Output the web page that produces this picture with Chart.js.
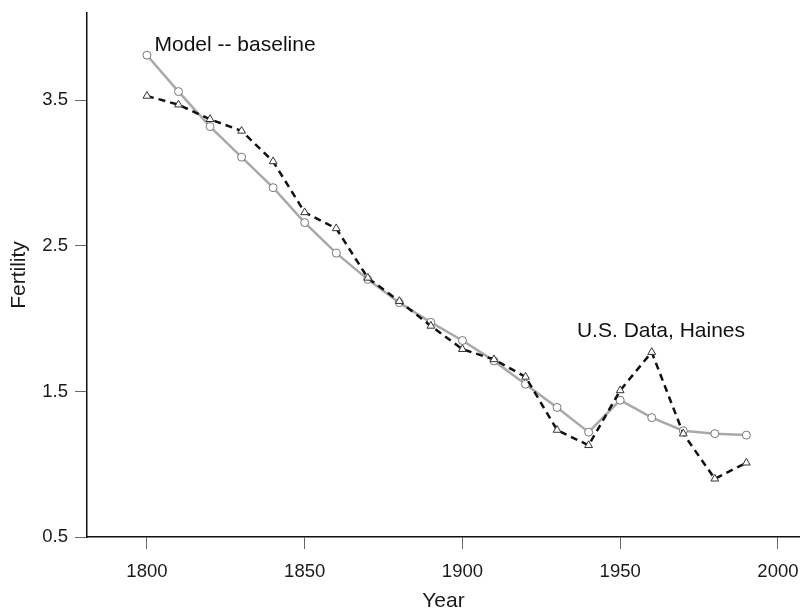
<!DOCTYPE html>
<html>
<head>
<meta charset="utf-8">
<script src="https://cdn.jsdelivr.net/npm/chart.js@4/dist/chart.umd.min.js"></script>
<style>
html,body{margin:0;padding:0;background:#fff;}
#wrap{width:800px;height:611px;}
</style>
</head>
<body>
<div id="wrap"><canvas id="c" width="800" height="611"></canvas></div>
<script>
const years = [1800,1810,1820,1830,1840,1850,1860,1870,1880,1890,1900,1910,1920,1930,1940,1950,1960,1970,1980,1990];
const modelBaseline = [3.81,3.56,3.32,3.11,2.90,2.66,2.45,2.27,2.11,1.975,1.85,1.71,1.55,1.39,1.22,1.44,1.32,1.23,1.21,1.20];
const usDataHaines = [3.53,3.47,3.37,3.29,3.08,2.73,2.62,2.28,2.12,1.95,1.79,1.72,1.60,1.235,1.13,1.507,1.77,1.21,0.90,1.01];
const xTickValues = [1800,1850,1900,1950,2000];
const yTickValues = [0.5,1.5,2.5,3.5];
const annotationTexts = ['Model -- baseline','U.S. Data, Haines'];
const annotationX = [1802.4,1936.3];
const annotationY = [3.877,1.911];

const FONT = '"Liberation Sans", Arial, Helvetica, sans-serif';
const toPoints = (vals) => vals.map((v,i)=>({x:years[i], y:v}));

const labelPlugin = {
  id:'annotLabels',
  afterDatasetsDraw(chart){
    const {ctx, scales:{x,y}} = chart;
    ctx.save();
    ctx.font = '21px ' + FONT;
    ctx.fillStyle = '#111';
    ctx.textAlign = 'left';
    ctx.textBaseline = 'middle';
    annotationTexts.forEach((t,i)=>{
      ctx.fillText(t, x.getPixelForValue(annotationX[i]), y.getPixelForValue(annotationY[i]));
    });
    ctx.restore();
  }
};

new Chart(document.getElementById('c'), {
  type:'line',
  data:{
    datasets:[
      {
        label:'Model -- baseline',
        data: toPoints(modelBaseline),
        borderColor:'#a9a9a9',
        borderWidth:2.5,
        pointStyle:'circle',
        pointRadius:4,
        pointBackgroundColor:'#fff',
        pointBorderColor:'#777',
        pointBorderWidth:1,
        tension:0,
        order:2
      },
      {
        label:'U.S. Data, Haines',
        data: toPoints(usDataHaines),
        borderColor:'#111',
        borderWidth:2.5,
        borderDash:[7,5],
        pointStyle:'triangle',
        pointRadius:4.5,
        pointBackgroundColor:'#fff',
        pointBorderColor:'#333',
        pointBorderWidth:1,
        tension:0,
        order:1
      }
    ]
  },
  options:{
    responsive:false,
    animation:false,
    devicePixelRatio:1,
    layout:{autoPadding:false, padding:{top:13,right:0,bottom:0,left:0}},
    plugins:{legend:{display:false}, tooltip:{enabled:false}},
    scales:{
      x:{
        type:'linear',
        min:1781, max:2007,
        afterBuildTicks:(s)=>{ s.ticks = xTickValues.map(v=>({value:v})); },
        afterFit:(s)=>{ s.height = 74; s.paddingLeft = 0; s.paddingRight = 0; },
        grid:{drawOnChartArea:false, drawTicks:true, tickLength:12, color:'#666', lineWidth:1},
        border:{display:true, color:'#111', width:1.5},
        ticks:{padding:12, color:'#1a1a1a', maxRotation:0, autoSkip:false, font:{family:FONT, size:18.5}, callback:(v)=>String(v)},
        title:{display:true, text:'Year', color:'#1a1a1a', padding:{top:0,bottom:0}, font:{family:FONT, size:21, lineHeight:0.9}}
      },
      y:{
        type:'linear',
        min:0.5, max:4.1,
        afterBuildTicks:(s)=>{ s.ticks = yTickValues.map(v=>({value:v})); },
        afterFit:(s)=>{ s.width = 87; s.paddingTop = 0; s.paddingBottom = 0; },
        grid:{drawOnChartArea:false, drawTicks:true, tickLength:12, color:'#666', lineWidth:1},
        border:{display:true, color:'#111', width:1.5},
        ticks:{padding:7, color:'#1a1a1a', autoSkip:false, font:{family:FONT, size:18.5}, callback:(v)=>v.toFixed(1)},
        title:{display:true, text:'Fertility', color:'#1a1a1a', padding:{top:7,bottom:0}, font:{family:FONT, size:21, lineHeight:1.2}}
      }
    }
  },
  plugins:[labelPlugin]
});
</script>
</body>
</html>
